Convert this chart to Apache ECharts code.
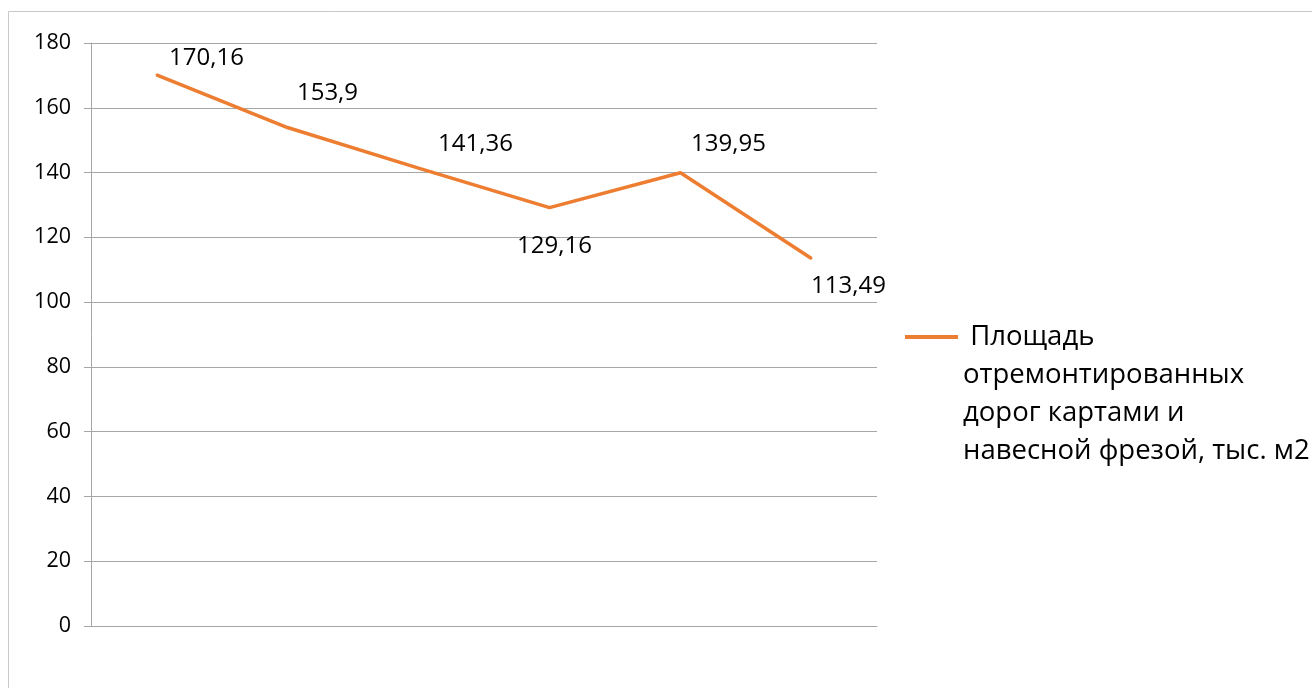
<!DOCTYPE html>
<html><head><meta charset="utf-8">
<script src="https://cdn.jsdelivr.net/npm/echarts@6/dist/echarts.min.js"></script>
<style>html,body{margin:0;padding:0;background:#fff}#c{width:1312px;height:688px}</style>
</head><body><div id="c"></div>
<script>
const categories = ['1', '2', '3', '4', '5', '6'];
const values = [170.16, 153.9, 141.36, 129.16, 139.95, 113.49];
const seriesName = 'Площадь отремонтированных дорог картами и навесной фрезой, тыс. м2';
const legendText = ' Площадь\nотремонтированных\nдорог картами и\nнавесной фрезой, тыс. м2';
const labelOffsets = [[50, -17], [40, -34], [57, -24], [5, 38], [48, -29], [37, 28]];

const chart = echarts.init(document.getElementById('c'));
const FONT = 'Open Sans';
chart.setOption({
  animation: false,
  backgroundColor: '#fff',
  graphic: [{type: 'rect', shape: {x: 8.5, y: 11.5, width: 1310, height: 700}, style: {fill: 'none', stroke: '#c8c8c8', lineWidth: 1}, silent: true}],
  grid: {left: 91, right: 435, top: 43, bottom: 62},
  legend: {
    left: 900, top: 313, orient: 'vertical',
    itemWidth: 53, itemHeight: 152,
    data: [{name: seriesName, icon: 'path://M0,0H0.01V0.01H0Z M0,17H53V21H0Z M0,151.99H0.01V152H0Z'}],
    formatter: () => legendText,
    textStyle: {fontFamily: FONT, fontSize: 27.5, color: '#000', lineHeight: 38}
  },
  xAxis: {
    type: 'category', data: categories, boundaryGap: true,
    axisLine: {lineStyle: {color: '#a6a6a6', width: 1}},
    axisTick: {show: false}, axisLabel: {show: false}
  },
  yAxis: {
    type: 'value', min: 0, max: 180, interval: 20,
    axisLine: {show: true, lineStyle: {color: '#a6a6a6'}},
    axisTick: {show: true, length: 7, lineStyle: {color: '#a6a6a6'}},
    splitLine: {lineStyle: {color: '#a6a6a6', width: 1}},
    axisLabel: {fontFamily: FONT, fontSize: 21.5, color: '#000', margin: 20}
  },
  series: [{
    name: seriesName, type: 'line',
    data: values.map((v, i) => ({value: v, label: {offset: labelOffsets[i]}})),
    symbol: 'circle', symbolSize: 2,
    lineStyle: {color: '#ED7D31', width: 3.5},
    itemStyle: {color: '#ED7D31'},
    label: {show: true, position: 'inside', fontFamily: FONT, fontSize: 24, color: '#000',
      formatter: p => String(p.value).replace('.', ',')}
  }]
});
</script></body></html>
